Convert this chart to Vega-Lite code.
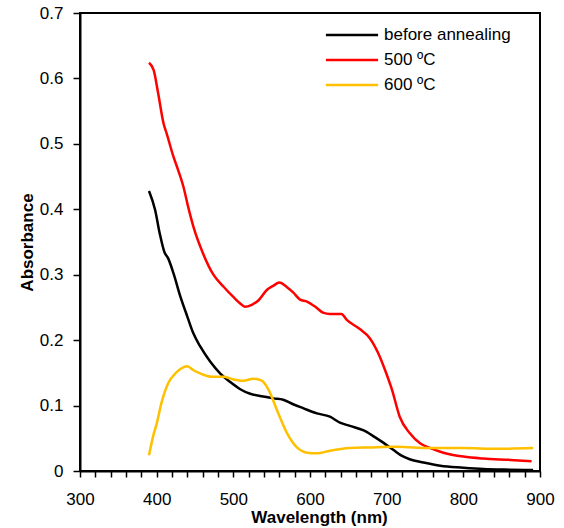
{
  "$schema": "https://vega.github.io/schema/vega-lite/v6.json",
  "width": 460,
  "height": 458,
  "autosize": {"type": "none"},
  "padding": {"left": 80, "top": 13, "right": 24, "bottom": 57},
  "background": "white",
  "config": {
    "view": {"stroke": "black", "strokeWidth": 2},
    "axis": {
      "grid": false,
      "domainColor": "black",
      "domainWidth": 2,
      "tickColor": "black",
      "tickWidth": 1.5,
      "labelFont": "Liberation Sans",
      "labelFontSize": 17,
      "labelColor": "black",
      "titleFont": "Liberation Sans",
      "titleFontSize": 17,
      "titleFontWeight": "bold",
      "titleColor": "black"
    },
    "legend": {
      "labelFont": "Liberation Sans",
      "labelFontSize": 17,
      "labelColor": "black"
    }
  },
  "data": {
    "values": [
      {"s": "before annealing", "wl": 390, "a": 0.428},
      {"s": "before annealing", "wl": 398, "a": 0.399},
      {"s": "before annealing", "wl": 404, "a": 0.363},
      {"s": "before annealing", "wl": 410, "a": 0.335},
      {"s": "before annealing", "wl": 415, "a": 0.325},
      {"s": "before annealing", "wl": 422, "a": 0.302},
      {"s": "before annealing", "wl": 430, "a": 0.270},
      {"s": "before annealing", "wl": 440, "a": 0.236},
      {"s": "before annealing", "wl": 448, "a": 0.210},
      {"s": "before annealing", "wl": 457, "a": 0.190},
      {"s": "before annealing", "wl": 470, "a": 0.167},
      {"s": "before annealing", "wl": 483, "a": 0.149},
      {"s": "before annealing", "wl": 496, "a": 0.136},
      {"s": "before annealing", "wl": 509, "a": 0.125},
      {"s": "before annealing", "wl": 522, "a": 0.118},
      {"s": "before annealing", "wl": 539, "a": 0.114},
      {"s": "before annealing", "wl": 552, "a": 0.111},
      {"s": "before annealing", "wl": 565, "a": 0.109},
      {"s": "before annealing", "wl": 578, "a": 0.102},
      {"s": "before annealing", "wl": 591, "a": 0.096},
      {"s": "before annealing", "wl": 609, "a": 0.088},
      {"s": "before annealing", "wl": 626, "a": 0.083},
      {"s": "before annealing", "wl": 639, "a": 0.074},
      {"s": "before annealing", "wl": 652, "a": 0.069},
      {"s": "before annealing", "wl": 670, "a": 0.062},
      {"s": "before annealing", "wl": 683, "a": 0.053},
      {"s": "before annealing", "wl": 696, "a": 0.043},
      {"s": "before annealing", "wl": 709, "a": 0.032},
      {"s": "before annealing", "wl": 720, "a": 0.023},
      {"s": "before annealing", "wl": 730, "a": 0.018},
      {"s": "before annealing", "wl": 748, "a": 0.013},
      {"s": "before annealing", "wl": 770, "a": 0.008},
      {"s": "before annealing", "wl": 800, "a": 0.005},
      {"s": "before annealing", "wl": 826, "a": 0.003},
      {"s": "before annealing", "wl": 861, "a": 0.002},
      {"s": "before annealing", "wl": 891, "a": 0.0015},

      {"s": "500 ºC", "wl": 390, "a": 0.624},
      {"s": "500 ºC", "wl": 396, "a": 0.613},
      {"s": "500 ºC", "wl": 402, "a": 0.577},
      {"s": "500 ºC", "wl": 409, "a": 0.531},
      {"s": "500 ºC", "wl": 413, "a": 0.516},
      {"s": "500 ºC", "wl": 422, "a": 0.480},
      {"s": "500 ºC", "wl": 428, "a": 0.460},
      {"s": "500 ºC", "wl": 435, "a": 0.434},
      {"s": "500 ºC", "wl": 441, "a": 0.404},
      {"s": "500 ºC", "wl": 448, "a": 0.373},
      {"s": "500 ºC", "wl": 461, "a": 0.331},
      {"s": "500 ºC", "wl": 474, "a": 0.300},
      {"s": "500 ºC", "wl": 487, "a": 0.282},
      {"s": "500 ºC", "wl": 500, "a": 0.266},
      {"s": "500 ºC", "wl": 509, "a": 0.256},
      {"s": "500 ºC", "wl": 515, "a": 0.251},
      {"s": "500 ºC", "wl": 524, "a": 0.254},
      {"s": "500 ºC", "wl": 533, "a": 0.261},
      {"s": "500 ºC", "wl": 544, "a": 0.277},
      {"s": "500 ºC", "wl": 552, "a": 0.283},
      {"s": "500 ºC", "wl": 560, "a": 0.288},
      {"s": "500 ºC", "wl": 570, "a": 0.281},
      {"s": "500 ºC", "wl": 578, "a": 0.273},
      {"s": "500 ºC", "wl": 587, "a": 0.262},
      {"s": "500 ºC", "wl": 596, "a": 0.259},
      {"s": "500 ºC", "wl": 607, "a": 0.251},
      {"s": "500 ºC", "wl": 617, "a": 0.242},
      {"s": "500 ºC", "wl": 626, "a": 0.240},
      {"s": "500 ºC", "wl": 641, "a": 0.240},
      {"s": "500 ºC", "wl": 648, "a": 0.231},
      {"s": "500 ºC", "wl": 665, "a": 0.217},
      {"s": "500 ºC", "wl": 678, "a": 0.203},
      {"s": "500 ºC", "wl": 689, "a": 0.180},
      {"s": "500 ºC", "wl": 698, "a": 0.154},
      {"s": "500 ºC", "wl": 707, "a": 0.124},
      {"s": "500 ºC", "wl": 717, "a": 0.083},
      {"s": "500 ºC", "wl": 730, "a": 0.058},
      {"s": "500 ºC", "wl": 744, "a": 0.042},
      {"s": "500 ºC", "wl": 757, "a": 0.035},
      {"s": "500 ºC", "wl": 774, "a": 0.028},
      {"s": "500 ºC", "wl": 800, "a": 0.022},
      {"s": "500 ºC", "wl": 826, "a": 0.019},
      {"s": "500 ºC", "wl": 861, "a": 0.017},
      {"s": "500 ºC", "wl": 889, "a": 0.015},

      {"s": "600 ºC", "wl": 390, "a": 0.024},
      {"s": "600 ºC", "wl": 396, "a": 0.056},
      {"s": "600 ºC", "wl": 400, "a": 0.072},
      {"s": "600 ºC", "wl": 406, "a": 0.103},
      {"s": "600 ºC", "wl": 415, "a": 0.134},
      {"s": "600 ºC", "wl": 426, "a": 0.151},
      {"s": "600 ºC", "wl": 434, "a": 0.158},
      {"s": "600 ºC", "wl": 440, "a": 0.160},
      {"s": "600 ºC", "wl": 448, "a": 0.154},
      {"s": "600 ºC", "wl": 459, "a": 0.148},
      {"s": "600 ºC", "wl": 472, "a": 0.144},
      {"s": "600 ºC", "wl": 487, "a": 0.144},
      {"s": "600 ºC", "wl": 500, "a": 0.140},
      {"s": "600 ºC", "wl": 513, "a": 0.138},
      {"s": "600 ºC", "wl": 526, "a": 0.141},
      {"s": "600 ºC", "wl": 537, "a": 0.138},
      {"s": "600 ºC", "wl": 546, "a": 0.124},
      {"s": "600 ºC", "wl": 557, "a": 0.093},
      {"s": "600 ºC", "wl": 570, "a": 0.058},
      {"s": "600 ºC", "wl": 583, "a": 0.036},
      {"s": "600 ºC", "wl": 596, "a": 0.028},
      {"s": "600 ºC", "wl": 609, "a": 0.027},
      {"s": "600 ºC", "wl": 626, "a": 0.031},
      {"s": "600 ºC", "wl": 652, "a": 0.035},
      {"s": "600 ºC", "wl": 678, "a": 0.036},
      {"s": "600 ºC", "wl": 713, "a": 0.037},
      {"s": "600 ºC", "wl": 757, "a": 0.035},
      {"s": "600 ºC", "wl": 800, "a": 0.035},
      {"s": "600 ºC", "wl": 844, "a": 0.034},
      {"s": "600 ºC", "wl": 891, "a": 0.035}
    ]
  },
  "mark": {"type": "line", "strokeWidth": 2.5, "interpolate": "monotone"},
  "encoding": {
    "x": {
      "field": "wl",
      "type": "quantitative",
      "scale": {"domain": [300, 900], "nice": false, "zero": false},
      "axis": {
        "title": "Wavelength (nm)",
        "values": [300,320,340,360,380,400,420,440,460,480,500,520,540,560,580,600,620,640,660,680,700,720,740,760,780,800,820,840,860,880,900],
        "labelExpr": "datum.value % 100 === 0 ? datum.label : ''",
        "labelFlush": false,
        "labelOverlap": false,
        "tickSize": 6,
        "labelBaseline": "alphabetic",
        "labelPadding": 27,
        "titleX": 239,
        "titleY": 51,
        "titleBaseline": "alphabetic",
        "titleAnchor": null
      }
    },
    "y": {
      "field": "a",
      "type": "quantitative",
      "scale": {"domain": [0, 0.7], "nice": false},
      "axis": {
        "title": "Absorbance",
        "values": [0, 0.1, 0.2, 0.3, 0.4, 0.5, 0.6, 0.7],
        "labelExpr": "datum.value === 0 ? '0' : format(datum.value, '.1f')",
        "labelFlush": false,
        "labelOverlap": false,
        "tickSize": 7,
        "labelPadding": 10,
        "titleX": -48,
        "titleY": 229,
        "titleAngle": -90,
        "titleBaseline": "alphabetic",
        "titleAlign": "center"
      }
    },
    "color": {
      "field": "s",
      "type": "nominal",
      "sort": ["before annealing", "500 ºC", "600 ºC"],
      "scale": {"domain": ["before annealing", "500 ºC", "600 ºC"], "range": ["#000000", "#FF0000", "#FFC000"]},
      "legend": {
        "title": null,
        "orient": "none",
        "legendX": 256,
        "legendY": 6,
        "padding": 0,
        "symbolType": "M-1.8,0H1.8",
        "symbolSize": 841,
        "symbolStrokeWidth": 2.5,
        "labelOffset": 16,
        "rowPadding": 1
      }
    }
  }
}
